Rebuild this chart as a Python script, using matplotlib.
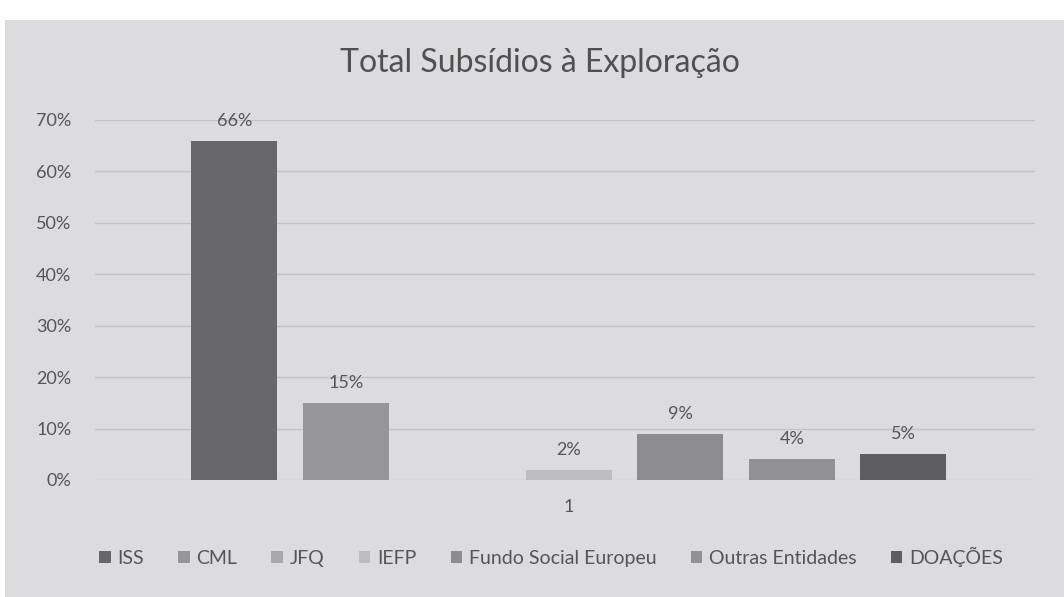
import matplotlib.pyplot as plt
from matplotlib.patches import Rectangle

plt.rcParams['font.family'] = ['Lato', 'DejaVu Sans']

series = ['ISS', 'CML', 'JFQ', 'IEFP', 'Fundo Social Europeu', 'Outras Entidades', 'DOAÇÕES']
values = [0.66, 0.15, 0.0, 0.02, 0.09, 0.04, 0.05]
labels = ['66%', '15%', '', '2%', '9%', '4%', '5%']
category = ['1']
colors = ['#68686b', '#969698', '#a8a8aa', '#bdbdbf', '#8c8c8e', '#919193', '#5e5e61']

fig = plt.figure(figsize=(10.64, 5.97), dpi=100, facecolor='white')

# grey page background of the scanned chart
bg = fig.add_axes([0, 0, 1, 1], zorder=-10)
bg.axis('off')
bg.add_patch(Rectangle((5 / 1064, 0), 1, 1 - 20 / 597, facecolor='#dcdcde', edgecolor='none'))
bg.set_xlim(0, 1)
bg.set_ylim(0, 1)

ax = fig.add_axes([95 / 1064, 1 - 480 / 597, 940 / 1064, 360 / 597])
ax.set_facecolor('none')

step = 0.1186
width = 0.0915
for i, (name, v, lab, c) in enumerate(zip(series, values, labels, colors)):
    x = (i - 3) * step
    ax.bar(x, v, width=width, color=c, label=name, zorder=2)
    if lab:
        ax.text(x, v + 0.039, lab, ha='center', va='center', fontsize=13, color='#555555')

ax.set_xlim(-0.504, 0.496)
ax.set_ylim(0, 0.7)
ax.set_yticks([i / 10 for i in range(8)])
ax.set_yticklabels([f'{i * 10}%' for i in range(8)], fontsize=13, color='#555555')
ax.set_xticks([0])
ax.set_xticklabels(category, fontsize=13, color='#555555')
ax.tick_params(length=0)
ax.tick_params(axis='y', pad=17)
ax.tick_params(axis='x', pad=14)
ax.grid(axis='y', color='#c4c4c6', linewidth=1, zorder=1)
for s in ax.spines.values():
    s.set_visible(False)

fig.text(540 / 1064, 1 - 72 / 597, 'Total Subsídios à Exploração', ha='center', va='baseline',
         fontsize=23, color='#505050')

fig.legend(loc='center', bbox_to_anchor=(551 / 1064, 1 - 557 / 597), ncol=7,
           frameon=False, fontsize=14, handlelength=0.6, handleheight=0.6,
           handletextpad=0.35, columnspacing=1.75, labelcolor='#555555')

fig.savefig('out.png', dpi=100, facecolor=fig.get_facecolor())
